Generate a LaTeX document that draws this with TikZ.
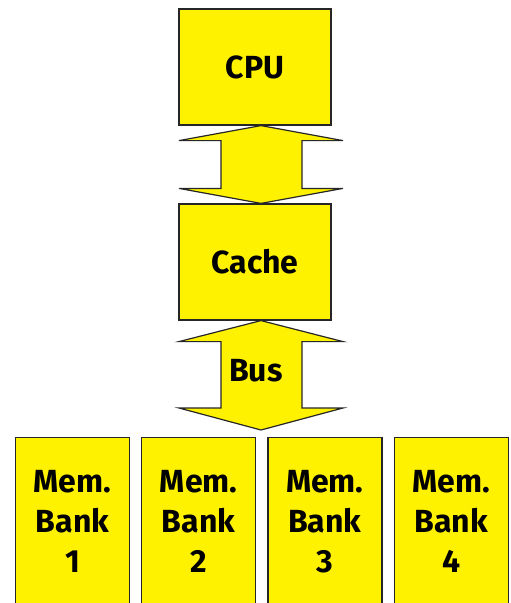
\documentclass[tikz,border=0pt]{standalone}
\usepackage{fontspec}
\setmainfont{Fira Sans}
\usepackage{tikz}
\usetikzlibrary{positioning}

\begin{document}
\begin{tikzpicture}[x=1pt, y=-1pt,
      every node/.style={font=\bfseries\fontsize{32}{40}\selectfont},
      unit/.style={draw=black!85, line width=1.2pt, fill=yellow,
                   minimum width=152pt, minimum height=116pt, inner sep=0pt},
      bank/.style={draw=black!85, line width=1.2pt, fill=yellow,
                   minimum width=114pt, minimum height=168pt, inner sep=0pt,
                   anchor=north, align=center},
      link/.style={draw=black!85, line width=1.2pt, fill=yellow, line join=miter},
   ]
   \useasboundingbox (0,0) rectangle (511,603);

   % processor side
   \node[unit] (cpu) at (255,67) {CPU};
   \node[unit] (cache) at (255,262) {Cache};

   % memory banks
   \node[bank] (bank1) at (72.5,437) {Mem.\\Bank\\1};
   \node[bank, right=11pt of bank1] (bank2) {Mem.\\Bank\\2};
   \node[bank, right=11pt of bank2] (bank3) {Mem.\\Bank\\3};
   \node[bank, right=11pt of bank3] (bank4) {Mem.\\Bank\\4};

   % arrow ends
   \coordinate (axis) at (261,0);
   \coordinate (t1) at (cpu.south -| axis);
   \coordinate (b1) at (cache.north -| axis);
   \coordinate (t2) at (cache.south -| axis);
   \coordinate (b2) at (261,430);

   \draw[link] (t1) -- ([shift={(82,15)}]t1) -- ([shift={(41,15)}]t1)
         -- ([shift={(41,-15)}]b1) -- ([shift={(82,-15)}]b1) -- (b1)
         -- ([shift={(-82,-15)}]b1) -- ([shift={(-40,-15)}]b1)
         -- ([shift={(-40,15)}]t1) -- ([shift={(-82,15)}]t1) -- cycle;

   \draw[link] (t2) -- ([shift={(82,21)}]t2) -- ([shift={(41,21)}]t2)
         -- ([shift={(41,-22)}]b2) -- ([shift={(82,-22)}]b2) -- (b2)
         -- ([shift={(-82,-22)}]b2) -- ([shift={(-40,-22)}]b2)
         -- ([shift={(-40,21)}]t2) -- ([shift={(-82,21)}]t2) -- cycle;
   \node (bus) at (256,371) {Bus};
\end{tikzpicture}
\end{document}
